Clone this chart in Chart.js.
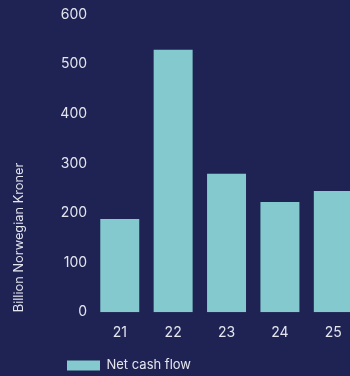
<!DOCTYPE html>
<html>
<head>
<meta charset="utf-8">
<script src="https://cdn.jsdelivr.net/npm/chart.js@4"></script>
<style>
  html, body { margin: 0; padding: 0; background: #1f2353; overflow: hidden; }
  #wrap { width: 362px; height: 376px; }
</style>
</head>
<body>
<div id="wrap"><canvas id="chart"></canvas></div>
<script>
const years = ['21', '22', '23', '24', '25'];
const netCashFlow = [188, 529, 279, 222, 244];
const yMin = 0;
const yMax = 600;
const yStep = 100;

const textColor = '#e4e5ee';
const barColor = '#84c9ce';
const fontFamily = 'Inter, "Noto Sans", sans-serif';

// push the legend to the right, under the first bars
const legendShift = {
  id: 'legendShift',
  afterLayout(chart) {
    chart.legend.left = 61;
  },
};

new Chart(document.getElementById('chart'), {
  type: 'bar',
  data: {
    labels: years,
    datasets: [{
      label: 'Net cash flow',
      data: netCashFlow,
      backgroundColor: barColor,
      borderWidth: 0,
      barPercentage: 0.73,
      categoryPercentage: 1,
    }],
  },
  options: {
    responsive: true,
    maintainAspectRatio: false,
    animation: false,
    layout: { padding: { top: 5, right: 2, left: 11, bottom: -6 } },
    plugins: {
      tooltip: { enabled: false },
      legend: {
        position: 'bottom',
        align: 'start',
        labels: {
          color: textColor,
          boxWidth: 33,
          boxHeight: 10,
          padding: 6,
          font: { family: fontFamily, size: 13 },
        },
      },
    },
    scales: {
      x: {
        grid: { display: false, drawTicks: false },
        border: { display: false },
        ticks: { color: textColor, padding: 12, font: { family: fontFamily, size: 14 } },
      },
      y: {
        min: yMin,
        max: yMax,
        grid: { display: false, drawTicks: false },
        border: { display: false },
        ticks: { stepSize: yStep, color: textColor, padding: 6, font: { family: fontFamily, size: 14 } },
        title: {
          display: true,
          align: 'start',
          text: 'Billion Norwegian Kroner',
          color: textColor,
          font: { family: fontFamily, size: 12.8 },
          padding: { top: 0, bottom: 28 },
        },
      },
    },
  },
  plugins: [legendShift],
});
</script>
</body>
</html>
